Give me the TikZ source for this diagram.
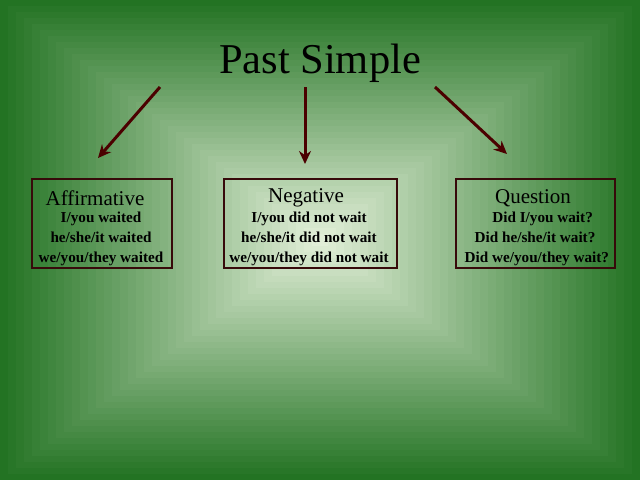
\documentclass[tikz,border=0pt]{standalone}
\usepackage{fontspec}
\setmainfont{Liberation Serif}
\usetikzlibrary{arrows.meta}
\definecolor{edgeg}{RGB}{35,115,35}
\definecolor{centg}{RGB}{225,238,215}
\definecolor{boxc}{RGB}{55,10,10}
\definecolor{arrc}{RGB}{75,0,0}
\tikzset{
  box/.style={draw=boxc,line width=1.8pt,minimum width=#1,minimum height=89pt,inner sep=0pt},
  head/.style={font=\fontsize{21}{24}\selectfont},
  lines/.style={font=\bfseries\fontsize{15.2}{20}\selectfont,align=center},
  arr/.style={draw=arrc,line width=3pt,-{Stealth[length=13pt,width=12pt]}}
}
\begin{document}
\begin{tikzpicture}[x=1pt,y=-1pt]
\useasboundingbox (0,0) rectangle (640,480);
\foreach \i in {0,...,39}{
  \pgfmathsetmacro{\p}{100*\i/39}
  \fill[centg!\p!edgeg] (8*\i,6*\i) rectangle (640-8*\i,480-6*\i);
}
\node[font=\fontsize{42.5}{46}\selectfont] (title) at (320,63) {Past Simple};
\node[box=140pt] (aff) at (102,223.5) {};
\node[box=173pt] (neg) at (310.5,223.5) {};
\node[box=159pt] (que) at (535.5,223.5) {};
\node[head] (affh) at (95,198) {Affirmative};
\node[head] (negh) at (306,198) {Negative};
\node[head] (queh) at (533,198) {Question};
\node[lines] (afft) at (101,239) {I/you waited\\he/she/it waited\\we/you/they waited};
\node[lines] (negt) at (309,239) {I/you did not wait\\he/she/it did not wait\\we/you/they did not wait};
\node[lines] (quet) at (535,239) {\quad Did I/you wait?\\Did he/she/it wait?\\ \ Did we/you/they wait?};
\coordinate (a1) at (160,87); \coordinate (a2) at (98,158);
\coordinate (b1) at (305,87); \coordinate (b2) at (305,164);
\coordinate (c1) at (435,87); \coordinate (c2) at (507,154);
\draw[arr] (a1) -- (a2);
\draw[arr] (b1) -- (b2);
\draw[arr] (c1) -- (c2);
\end{tikzpicture}
\end{document}
